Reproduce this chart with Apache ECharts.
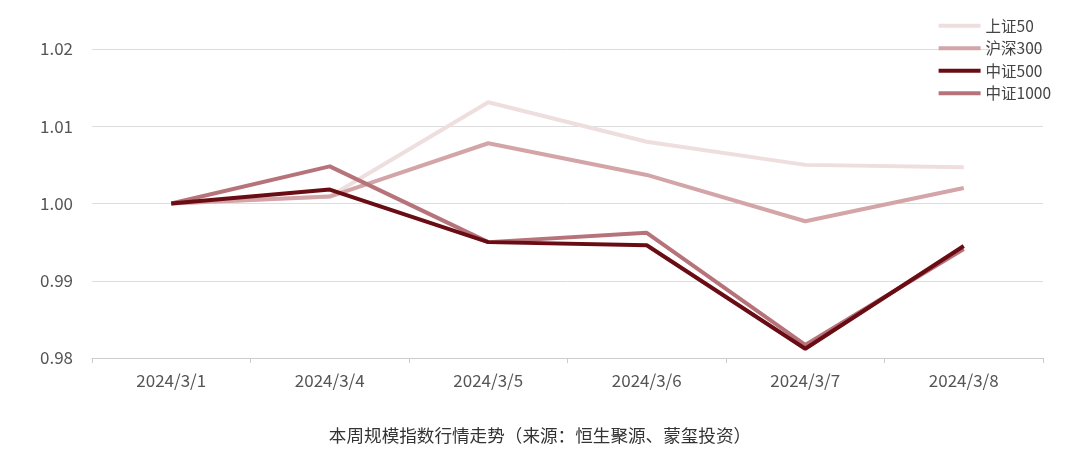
<!DOCTYPE html><html><head><meta charset="utf-8"><script src="https://cdn.jsdelivr.net/npm/echarts@6/dist/echarts.min.js"></script></head><body style="margin:0"><div id="c" style="width:1080px;height:456px"></div><script>
const categories=['2024/3/1','2024/3/4','2024/3/5','2024/3/6','2024/3/7','2024/3/8'];
const sz50=[1.000,1.0009,1.0131,1.0080,1.0050,1.0047];
const hs300=[1.000,1.0009,1.0078,1.0037,0.9977,1.0020];
const zz500=[1.000,1.0018,0.9950,0.9946,0.9812,0.9945];
const zz1000=[1.000,1.0048,0.9950,0.9962,0.9817,0.9941];
const names=['上证50','沪深300','中证500','中证1000'];
const colors=['#efdede','#d3a5a8','#6a0c14','#b6737a'];
const data=[sz50,hs300,zz500,zz1000];
const f='"Noto Sans CJK SC","Noto Sans",sans-serif';
const chart=echarts.init(document.getElementById('c'));
chart.setOption({
 animation:false,
 textStyle:{fontFamily:f},
 title:{text:'本周规模指数行情走势（来源：恒生聚源、蒙玺投资）',left:'center',top:422,textStyle:{fontSize:17.6,fontWeight:'normal',color:'#333',fontFamily:f}},
 legend:{orient:'vertical',right:24,top:13,itemWidth:42,itemHeight:4,itemGap:7,icon:'rect',textStyle:{fontSize:15.5,color:'#444'},data:names},
 grid:{left:92,right:37,top:49,bottom:98},
 xAxis:{type:'category',data:categories,axisLine:{lineStyle:{color:'#ccc'}},axisTick:{show:true,lineStyle:{color:'#ccc'}},axisLabel:{color:'#555',fontSize:17,margin:14}},
 yAxis:{type:'value',min:0.98,max:1.02,interval:0.01,axisLabel:{color:'#555',fontSize:17,margin:19,formatter:v=>v.toFixed(2)},splitLine:{lineStyle:{color:'#ddd'}}},
 series:names.map((n,i)=>({name:n,type:'line',data:data[i],symbol:'none',lineStyle:{width:4,color:colors[i]},itemStyle:{color:colors[i]},z:i===2?5:2}))
});
</script></body></html>
